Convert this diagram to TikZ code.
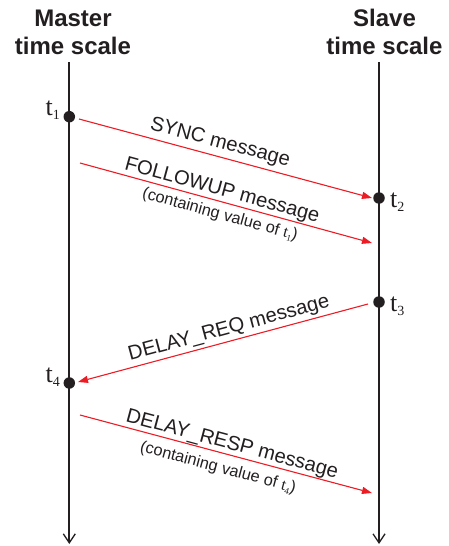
\documentclass[tikz,border=0pt]{standalone}
\usepackage{fontspec}
\setmainfont{Liberation Sans}
\newfontfamily\serifT{Liberation Serif}
\usetikzlibrary{arrows.meta}
\definecolor{ink}{HTML}{231F20}
\definecolor{msgred}{HTML}{ED1C24}
\newcommand{\tsub}[4]{{\serifT\fontsize{#1}{#1}\selectfont t\raisebox{-#3pt}{\fontsize{#2}{#2}\selectfont #4}}}
\begin{document}
\begin{tikzpicture}[x=1pt,y=-1pt,
  title/.style={font=\fontsize{24}{27}\selectfont\bfseries, text=ink, inner sep=0pt, anchor=base},
  axis/.style={draw=ink, line width=2pt, -{Straight Barb[length=9pt,width=12pt,line width=1.3pt]}},
  evdot/.style={circle, fill=ink, inner sep=0pt, minimum size=11.5pt},
  tlab/.style={text=ink, inner sep=0pt},
  msgarrow/.style={draw=msgred, line width=1.1pt, -{Triangle[length=10pt,width=7pt]}},
  msglabel/.style={font=\fontsize{20.2}{21}\selectfont, text=ink, inner sep=0pt},
  notelabel/.style={font=\fontsize{16.3}{17}\selectfont, text=ink, inner sep=0pt}]
\useasboundingbox (0,0) rectangle (449,546);

% titles
\node[title] (mt1) at (73,27) {Master};
\node[title] (mt2) at (73,54) {time scale};
\node[title] (st1) at (384.5,27) {Slave};
\node[title] (st2) at (384.5,54) {time scale};

% time axes
\coordinate (mtop) at (69.3,62);
\coordinate (mbot) at (69.3,544);
\coordinate (stop) at (379,62);
\coordinate (sbot) at (379,544);
\draw[axis] (mtop) -- (mbot);
\draw[axis] (stop) -- (sbot);

% events
\node[evdot] (d1) at (69.3,116.7) {};
\node[evdot] (d2) at (379,198) {};
\node[evdot] (d3) at (379,302) {};
\node[evdot] (d4) at (69.3,383) {};

\node[tlab, anchor=base east] (l1) at (60,115) {\tsub{26}{14}{4.5}{1}};
\node[tlab, anchor=base west] (l2) at (390,207) {\tsub{26}{14}{4.5}{2}};
\node[tlab, anchor=base west] (l3) at (390,311) {\tsub{26}{14}{4.5}{3}};
\node[tlab, anchor=base east] (l4) at (60,382) {\tsub{26}{14}{4.5}{4}};

% message end points
\coordinate (s1) at (79,119);
\coordinate (e1) at (372,198);
\coordinate (s2) at (80,163);
\coordinate (e2) at (372,243);
\coordinate (s3) at (368,304);
\coordinate (e3) at (78,382);
\coordinate (s4) at (80,415);
\coordinate (e4) at (372,493);

\draw[msgarrow] (s1) -- (e1);
\draw[msgarrow] (s2) -- (e2);
\draw[msgarrow] (s3) -- (e3);
\draw[msgarrow] (s4) -- (e4);

% labels
\node[msglabel, rotate=-14.9] (m1) at (220,143) {SYNC message};
\node[msglabel, rotate=-15.3] (m2) at (222,191) {FOLLOWUP message};
\node[notelabel, rotate=-15.3] (n2) at (220,215) {(containing value of \tsub{16.3}{9}{3}{1})};
\node[msglabel, rotate=15.05] (m3) at (229,329) {DELAY\_REQ message};
\node[msglabel, rotate=-15] (m4) at (232,445) {DELAY\_RESP message};
\node[notelabel, rotate=-15] (n4) at (218,468) {(containing value of \tsub{16.3}{9}{3}{4})};
\end{tikzpicture}
\end{document}
